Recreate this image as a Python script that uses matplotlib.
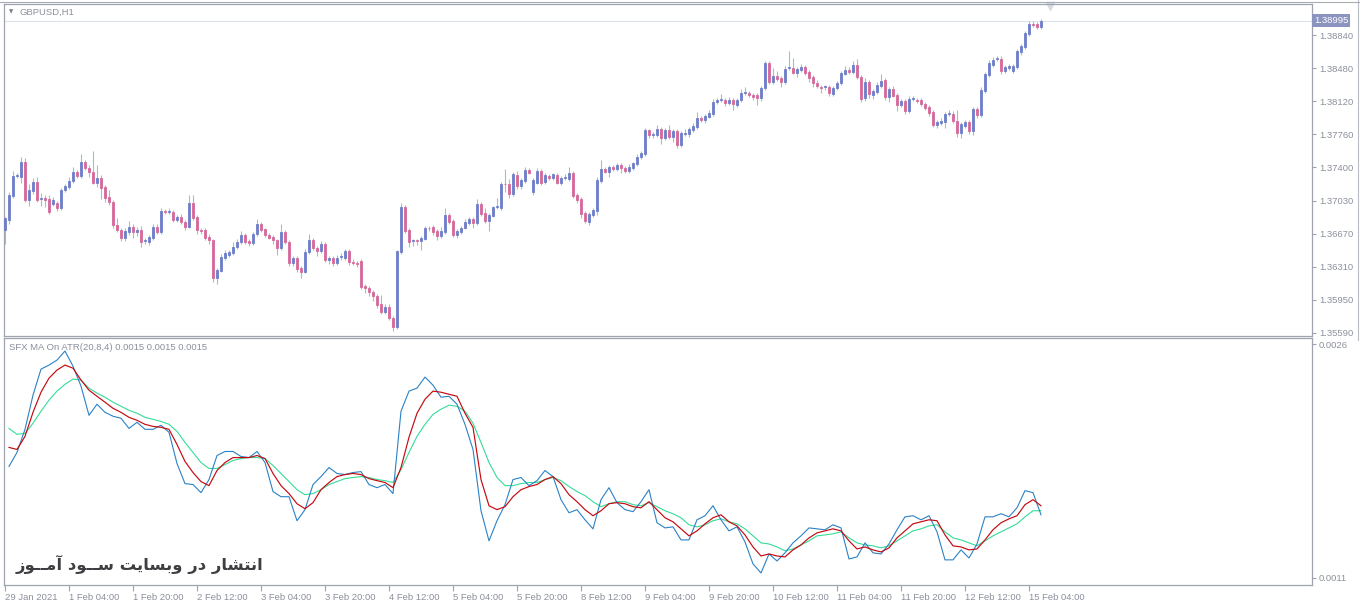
import matplotlib
matplotlib.use("Agg")
import matplotlib.pyplot as plt
import numpy as np

plt.rcParams["font.family"] = ["Liberation Sans", "DejaVu Sans"]

# GBPUSD H1 candles, one per hour starting 29 Jan 2021 12:00
opens = [
    1.3671, 1.3682, 1.3708, 1.3730, 1.3729, 1.3746, 1.3704, 1.3714, 1.3724, 1.3705,
    1.3706, 1.3705, 1.3700, 1.3701, 1.3695, 1.3715, 1.3718, 1.3725, 1.3735, 1.3730,
    1.3746, 1.3739, 1.3735, 1.3723, 1.3728, 1.3718, 1.3707, 1.3702, 1.3677, 1.3671,
    1.3663, 1.3669, 1.3675, 1.3669, 1.3671, 1.3659, 1.3658, 1.3663, 1.3675, 1.3669,
    1.3692, 1.3691, 1.3691, 1.3682, 1.3686, 1.3680, 1.3675, 1.3701, 1.3686, 1.3671,
    1.3671, 1.3664, 1.3660, 1.3619, 1.3627, 1.3641, 1.3644, 1.3646, 1.3653, 1.3658,
    1.3666, 1.3659, 1.3657, 1.3667, 1.3678, 1.3672, 1.3666, 1.3664, 1.3660, 1.3652,
    1.3669, 1.3658, 1.3635, 1.3641, 1.3630, 1.3626, 1.3647, 1.3660, 1.3652, 1.3648,
    1.3656, 1.3639, 1.3641, 1.3635, 1.3642, 1.3641, 1.3648, 1.3636, 1.3635, 1.3638,
    1.3610, 1.3608, 1.3604, 1.3599, 1.3591, 1.3582, 1.3587, 1.3575, 1.3566, 1.3647,
    1.3696, 1.3671, 1.3659, 1.3660, 1.3659, 1.3662, 1.3674, 1.3675, 1.3670, 1.3665,
    1.3669, 1.3688, 1.3681, 1.3666, 1.3669, 1.3674, 1.3679, 1.3683, 1.3679, 1.3700,
    1.3690, 1.3681, 1.3687, 1.3696, 1.3695, 1.3722, 1.3722, 1.3711, 1.3731, 1.3719,
    1.3725, 1.3737, 1.3713, 1.3723, 1.3736, 1.3724, 1.3730, 1.3728, 1.3731, 1.3723,
    1.3728, 1.3727, 1.3734, 1.3710, 1.3705, 1.3690, 1.3680, 1.3688, 1.3692, 1.3725,
    1.3738, 1.3735, 1.3740, 1.3738, 1.3742, 1.3739, 1.3736, 1.3739, 1.3743, 1.3751,
    1.3754, 1.3780, 1.3775, 1.3775, 1.3782, 1.3772, 1.3780, 1.3773, 1.3779, 1.3764,
    1.3776, 1.3776, 1.3780, 1.3784, 1.3794, 1.3791, 1.3795, 1.3798, 1.3811, 1.3813,
    1.3813, 1.3810, 1.3813, 1.3808, 1.3813, 1.3821, 1.3821, 1.3819, 1.3819, 1.3815,
    1.3826, 1.3854, 1.3833, 1.3839, 1.3837, 1.3833, 1.3848, 1.3848, 1.3843, 1.3846,
    1.3849, 1.3844, 1.3838, 1.3832, 1.3827, 1.3827, 1.3827, 1.3820, 1.3826, 1.3832,
    1.3842, 1.3846, 1.3844, 1.3851, 1.3838, 1.3815, 1.3833, 1.3819, 1.3822, 1.3828,
    1.3835, 1.3816, 1.3825, 1.3819, 1.3808, 1.3812, 1.3801, 1.3814, 1.3813, 1.3813,
    1.3809, 1.3806, 1.3800, 1.3786, 1.3788, 1.3789, 1.3798, 1.3798, 1.3790, 1.3777,
    1.3785, 1.3789, 1.3779, 1.3803, 1.3797, 1.3823, 1.3840, 1.3851, 1.3858, 1.3858,
    1.3845, 1.3848, 1.3845, 1.3849, 1.3866, 1.3871, 1.3885, 1.3896, 1.3896, 1.3893,
]
closes = [
    1.3684, 1.3710, 1.3730, 1.3731, 1.3746, 1.3704, 1.3715, 1.3724, 1.3704, 1.3706,
    1.3704, 1.3691, 1.3704, 1.3695, 1.3715, 1.3719, 1.3725, 1.3735, 1.3730, 1.3746,
    1.3739, 1.3735, 1.3723, 1.3728, 1.3717, 1.3706, 1.3702, 1.3677, 1.3671, 1.3663,
    1.3670, 1.3675, 1.3669, 1.3671, 1.3658, 1.3660, 1.3664, 1.3675, 1.3669, 1.3692,
    1.3691, 1.3692, 1.3682, 1.3686, 1.3680, 1.3675, 1.3701, 1.3684, 1.3671, 1.3670,
    1.3663, 1.3660, 1.3619, 1.3628, 1.3642, 1.3646, 1.3647, 1.3653, 1.3658, 1.3666,
    1.3658, 1.3657, 1.3667, 1.3678, 1.3671, 1.3666, 1.3663, 1.3660, 1.3652, 1.3669,
    1.3658, 1.3635, 1.3641, 1.3629, 1.3626, 1.3647, 1.3660, 1.3652, 1.3648, 1.3656,
    1.3639, 1.3641, 1.3635, 1.3641, 1.3643, 1.3648, 1.3636, 1.3635, 1.3634, 1.3609,
    1.3608, 1.3604, 1.3599, 1.3590, 1.3582, 1.3587, 1.3575, 1.3566, 1.3648, 1.3696,
    1.3670, 1.3658, 1.3660, 1.3659, 1.3663, 1.3674, 1.3673, 1.3669, 1.3665, 1.3670,
    1.3688, 1.3680, 1.3666, 1.3670, 1.3674, 1.3680, 1.3683, 1.3679, 1.3700, 1.3689,
    1.3681, 1.3688, 1.3696, 1.3697, 1.3722, 1.3721, 1.3711, 1.3732, 1.3719, 1.3726,
    1.3737, 1.3734, 1.3726, 1.3736, 1.3723, 1.3731, 1.3728, 1.3732, 1.3723, 1.3728,
    1.3729, 1.3734, 1.3708, 1.3704, 1.3689, 1.3681, 1.3689, 1.3693, 1.3726, 1.3738,
    1.3735, 1.3740, 1.3738, 1.3742, 1.3739, 1.3736, 1.3740, 1.3744, 1.3751, 1.3755,
    1.3780, 1.3775, 1.3776, 1.3782, 1.3772, 1.3780, 1.3773, 1.3779, 1.3764, 1.3777,
    1.3777, 1.3782, 1.3785, 1.3794, 1.3791, 1.3796, 1.3799, 1.3811, 1.3813, 1.3814,
    1.3810, 1.3813, 1.3809, 1.3813, 1.3821, 1.3822, 1.3819, 1.3816, 1.3815, 1.3826,
    1.3854, 1.3833, 1.3839, 1.3836, 1.3833, 1.3847, 1.3849, 1.3843, 1.3847, 1.3849,
    1.3843, 1.3837, 1.3832, 1.3828, 1.3826, 1.3828, 1.3821, 1.3826, 1.3832, 1.3843,
    1.3846, 1.3844, 1.3851, 1.3838, 1.3814, 1.3833, 1.3820, 1.3823, 1.3830, 1.3834,
    1.3816, 1.3825, 1.3818, 1.3808, 1.3812, 1.3801, 1.3814, 1.3815, 1.3812, 1.3809,
    1.3804, 1.3799, 1.3786, 1.3789, 1.3790, 1.3798, 1.3799, 1.3790, 1.3777, 1.3787,
    1.3789, 1.3779, 1.3803, 1.3797, 1.3824, 1.3842, 1.3854, 1.3857, 1.3859, 1.3845,
    1.3849, 1.3850, 1.3850, 1.3867, 1.3872, 1.3886, 1.3896, 1.3895, 1.3893, 1.38995,
]
# shadow lengths in pips above / below the candle body
wick_up = [
    2, 3, 6, 3, 5, 4, 6, 4, 5, 6,  3, 5, 3, 2, 2, 3, 4, 5, 2, 8,
    2, 3, 22, 14, 3, 2, 8, 2, 7, 2,  3, 6, 3, 4, 5, 3, 2, 3, 3, 3,
    2, 3, 2, 2, 3, 2, 9, 8, 2, 3,  2, 3, 2, 2, 3, 4, 2, 5, 3, 4,
    2, 2, 2, 5, 2, 2, 2, 2, 2, 9,  2, 2, 2, 2, 2, 4, 7, 3, 2, 3,
    2, 2, 2, 3, 3, 3, 3, 4, 2, 2,  2, 2, 2, 2, 9, 4, 4, 2, 2, 5,
    3, 2, 2, 2, 2, 2, 2, 2, 2, 5,  7, 2, 2, 2, 2, 3, 3, 2, 5, 2,
    5, 2, 2, 9, 2, 16, 5, 3, 5, 2,  3, 2, 2, 3, 2, 2, 2, 2, 2, 2,
    3, 6, 2, 2, 2, 2, 2, 2, 3, 10,  2, 2, 2, 2, 2, 2, 3, 2, 3, 2,
    3, 2, 2, 4, 2, 3, 6, 2, 2, 2,  4, 2, 3, 6, 2, 2, 3, 3, 2, 6,
    2, 3, 2, 2, 4, 5, 2, 2, 2, 2,  2, 2, 9, 6, 2, 3, 18, 11, 2, 3,
    2, 2, 2, 3, 3, 2, 2, 2, 2, 2,  4, 3, 5, 7, 2, 4, 2, 2, 3, 8,
    2, 2, 3, 2, 2, 2, 3, 3, 2, 2,  2, 2, 2, 2, 3, 2, 3, 3, 12, 2,
    2, 2, 3, 2, 3, 2, 3, 3, 2, 3,  2, 2, 2, 2, 2, 2, 3, 3, 2, 2,
]
wick_dn = [
    15, 4, 2, 2, 6, 2, 6, 3, 2, 8,  8, 2, 2, 3, 2, 2, 2, 2, 2, 2,
    2, 6, 2, 5, 12, 4, 3, 3, 2, 4,  4, 3, 6, 4, 5, 3, 3, 3, 2, 2,
    2, 2, 2, 2, 2, 4, 2, 2, 4, 3,  3, 4, 4, 7, 2, 2, 2, 2, 2, 2,
    2, 3, 2, 2, 2, 2, 2, 4, 8, 2,  2, 3, 3, 3, 7, 2, 2, 3, 5, 2,
    3, 5, 3, 2, 3, 2, 3, 2, 3, 2,  5, 5, 5, 4, 2, 2, 2, 5, 3, 2,
    2, 5, 5, 4, 9, 2, 3, 3, 5, 2,  2, 2, 2, 3, 2, 2, 2, 6, 2, 2,
    2, 11, 2, 2, 2, 8, 5, 3, 3, 3,  2, 2, 3, 2, 3, 3, 2, 2, 2, 3,
    2, 2, 2, 3, 5, 2, 3, 3, 4, 2,  2, 6, 2, 2, 6, 2, 2, 2, 2, 2,
    2, 3, 3, 2, 7, 2, 2, 6, 3, 2,  2, 3, 2, 2, 2, 3, 2, 2, 2, 2,
    3, 2, 7, 2, 2, 2, 3, 3, 7, 3,  2, 2, 2, 2, 6, 2, 2, 2, 5, 2,
    3, 4, 5, 2, 5, 3, 3, 2, 2, 2,  2, 2, 2, 2, 3, 3, 5, 5, 2, 2,
    3, 5, 2, 7, 3, 3, 2, 2, 2, 2,  2, 3, 2, 3, 2, 6, 2, 2, 4, 5,
    2, 3, 4, 3, 2, 2, 2, 2, 2, 3,  2, 2, 2, 2, 4, 2, 2, 2, 2, 2,
]

price_ticks = [1.38840, 1.38480, 1.38120, 1.37760, 1.37400, 1.37030, 1.36670, 1.36310, 1.35950, 1.35590]
last_price = 1.38995

time_labels = ["29 Jan 2021", "1 Feb 04:00", "1 Feb 20:00", "2 Feb 12:00", "3 Feb 04:00",
               "3 Feb 20:00", "4 Feb 12:00", "5 Feb 04:00", "5 Feb 20:00", "8 Feb 12:00",
               "9 Feb 04:00", "9 Feb 20:00", "10 Feb 12:00", "11 Feb 04:00", "11 Feb 20:00",
               "12 Feb 12:00", "15 Feb 04:00"]

# SFX MA On ATR(20,8,4), read every second bar (bars 2, 4, ... 260)
atr_fast = [
    0.001815, 0.001905, 0.002053, 0.002272, 0.002439, 0.002465, 0.002497, 0.002555, 0.002458, 0.002330,
    0.002143, 0.002214, 0.002162, 0.002137, 0.002124, 0.002059, 0.002098, 0.002053, 0.002053, 0.002079,
    0.002034, 0.001834, 0.001705, 0.001699, 0.001647, 0.001731, 0.001885, 0.001911, 0.001911, 0.001879,
    0.001872, 0.001911, 0.001840, 0.001654, 0.001621, 0.001621, 0.001467, 0.001538, 0.001699, 0.001750,
    0.001808, 0.001770, 0.001763, 0.001776, 0.001782, 0.001699, 0.001679, 0.001699, 0.001641, 0.002169,
    0.002298, 0.002317, 0.002388, 0.002336, 0.002259, 0.002265, 0.002214, 0.002085, 0.001924, 0.001531,
    0.001338, 0.001467, 0.001570, 0.001731, 0.001744, 0.001692, 0.001724, 0.001789, 0.001750, 0.001602,
    0.001518, 0.001538, 0.001473, 0.001415, 0.001602, 0.001679, 0.001583, 0.001538, 0.001525, 0.001589,
    0.001666, 0.001454, 0.001421, 0.001428, 0.001344, 0.001344, 0.001473, 0.001499, 0.001563, 0.001473,
    0.001402, 0.001428, 0.001331, 0.001190, 0.001132, 0.001254, 0.001209, 0.001261, 0.001325, 0.001370,
    0.001421, 0.001415, 0.001409, 0.001441, 0.001421, 0.001222, 0.001235, 0.001325, 0.001261, 0.001254,
    0.001318, 0.001409, 0.001492, 0.001499, 0.001473, 0.001499, 0.001396, 0.001216, 0.001216, 0.001280,
    0.001228, 0.001318, 0.001492, 0.001492, 0.001512, 0.001492, 0.001550, 0.001660, 0.001647, 0.001505,
]
atr_mid = [
    0.001937, 0.001924, 0.002008, 0.002162, 0.002291, 0.002381, 0.002433, 0.002465, 0.002445, 0.002369,
    0.002304, 0.002265, 0.002227, 0.002188, 0.002162, 0.002130, 0.002111, 0.002085, 0.002072, 0.002066,
    0.002053, 0.001956, 0.001847, 0.001776, 0.001718, 0.001692, 0.001789, 0.001840, 0.001872, 0.001872,
    0.001872, 0.001885, 0.001866, 0.001770, 0.001692, 0.001641, 0.001576, 0.001544, 0.001583, 0.001666,
    0.001712, 0.001750, 0.001763, 0.001770, 0.001763, 0.001737, 0.001724, 0.001712, 0.001679, 0.001808,
    0.002002, 0.002156, 0.002246, 0.002298, 0.002291, 0.002278, 0.002265, 0.002156, 0.002066, 0.001731,
    0.001563, 0.001538, 0.001557, 0.001621, 0.001666, 0.001686, 0.001699, 0.001731, 0.001750, 0.001705,
    0.001634, 0.001589, 0.001538, 0.001499, 0.001531, 0.001576, 0.001583, 0.001576, 0.001557, 0.001550,
    0.001589, 0.001538, 0.001486, 0.001460, 0.001415, 0.001370, 0.001402, 0.001447, 0.001486, 0.001505,
    0.001460, 0.001434, 0.001376, 0.001299, 0.001241, 0.001254, 0.001241, 0.001235, 0.001280, 0.001312,
    0.001357, 0.001389, 0.001402, 0.001415, 0.001402, 0.001338, 0.001286, 0.001299, 0.001280, 0.001267,
    0.001293, 0.001357, 0.001402, 0.001447, 0.001460, 0.001473, 0.001467, 0.001376, 0.001306, 0.001299,
    0.001280, 0.001286, 0.001344, 0.001409, 0.001454, 0.001479, 0.001499, 0.001570, 0.001602, 0.001563,
]
atr_slow = [
    0.002059, 0.002021, 0.002027, 0.002092, 0.002169, 0.002240, 0.002298, 0.002342, 0.002375, 0.002369,
    0.002317, 0.002285, 0.002259, 0.002227, 0.002201, 0.002175, 0.002156, 0.002130, 0.002117, 0.002104,
    0.002085, 0.002040, 0.001969, 0.001905, 0.001840, 0.001802, 0.001802, 0.001827, 0.001853, 0.001866,
    0.001872, 0.001872, 0.001866, 0.001821, 0.001770, 0.001718, 0.001666, 0.001634, 0.001641, 0.001666,
    0.001699, 0.001718, 0.001737, 0.001744, 0.001750, 0.001744, 0.001731, 0.001724, 0.001712, 0.001795,
    0.001905, 0.002008, 0.002085, 0.002149, 0.002182, 0.002208, 0.002201, 0.002169, 0.002092, 0.001969,
    0.001840, 0.001744, 0.001692, 0.001692, 0.001705, 0.001712, 0.001712, 0.001731, 0.001744, 0.001724,
    0.001686, 0.001654, 0.001628, 0.001589, 0.001557, 0.001576, 0.001589, 0.001589, 0.001570, 0.001563,
    0.001583, 0.001557, 0.001531, 0.001512, 0.001486, 0.001441, 0.001428, 0.001441, 0.001467, 0.001479,
    0.001460, 0.001447, 0.001415, 0.001370, 0.001325, 0.001318, 0.001299, 0.001274, 0.001286, 0.001312,
    0.001338, 0.001370, 0.001376, 0.001383, 0.001396, 0.001357, 0.001325, 0.001312, 0.001306, 0.001293,
    0.001306, 0.001338, 0.001370, 0.001402, 0.001415, 0.001434, 0.001441, 0.001396, 0.001357, 0.001344,
    0.001325, 0.001306, 0.001338, 0.001370, 0.001396, 0.001421, 0.001447, 0.001492, 0.001531, 0.001531,
]
atr_ticks = [0.0026, 0.0011]

# watermark, already in visual (left-to-right) order with joined letter forms
watermark = ("\ufeaf\ufeee\u0640\u0640\ufee3\ufe81 \ufea9\ufeee\u0640\u0640\ufeb3 "
             "\ufe96\ufef3\ufe8e\ufeb4\ufe91\ufeed \ufead\ufea9 \ufead\ufe8e\ufeb8\ufe98\ufee7\ufe8d")

UP = "#6e7fc9"
DOWN = "#d6699b"
WICK = "#b4b7c3"
GRID = "#9ea3ad"
TXT = "#8c909b"

n = np.arange(1, len(closes) + 1)
o = np.array(opens)
c = np.array(closes)
top = np.maximum(o, c)
bot = np.minimum(o, c)
hi = top + np.array(wick_up) * 1e-4
lo = bot - np.array(wick_dn) * 1e-4
cols = np.where(c >= o, UP, DOWN)

W, H = 1360, 602
fig = plt.figure(figsize=(W / 100, H / 100), dpi=100)
ax = fig.add_axes([4 / W, 1 - 336 / H, 1308 / W, 332 / H])
ax2 = fig.add_axes([4 / W, 1 - 585 / H, 1308 / W, 247 / H])

xlim = (0.75, 0.75 + 1308 / 4)

# price pane
ax.axhline(last_price, color="#dde3ec", lw=0.8, zorder=1)
ax.vlines(n, lo, hi, color=WICK, lw=0.8, zorder=2)
ax.bar(n, top - bot, bottom=bot, width=0.6, color=cols, edgecolor=cols, linewidth=0.6, zorder=3)
ax.set_xlim(*xlim)
ax.set_ylim(1.35557, 1.39179)
ax.yaxis.tick_right()
ax.set_yticks(price_ticks)
ax.set_yticklabels([f"{p:.5f}" for p in price_ticks])
ax.tick_params(axis="y", direction="out", length=3, width=0.8, pad=2, labelsize=6.8,
               colors=GRID, labelcolor=TXT)
ax.tick_params(axis="x", bottom=False, labelbottom=False)
ax.text(1.0015, last_price, "1.38995", transform=ax.get_yaxis_transform(), ha="left", va="center",
        fontsize=6.8, color="white", clip_on=False,
        bbox=dict(boxstyle="square,pad=0.2", fc="#8b94bf", ec="none"))
ax.text(0.0122, 0.976, "GBPUSD,H1", transform=ax.transAxes, ha="left", va="center",
        fontsize=6.8, color=TXT)
ax.text(0.0035, 0.976, "\u25bc", transform=ax.transAxes, ha="left", va="center",
        fontsize=4, color="#7d808a", family=["DejaVu Sans"])
ax.plot([0.7997], [0.995], marker="v", ms=6, color="#d6dbe6", transform=ax.transAxes, clip_on=False)

# indicator pane
nb = np.arange(2, len(closes) + 1, 2)
ax2.plot(nb, atr_slow, color="#35dc98", lw=0.8)
ax2.plot(nb, atr_fast, color="#2a82c6", lw=0.8)
ax2.plot(nb, atr_mid, color="#c40a10", lw=0.85)
ax2.set_xlim(*xlim)
ax2.set_ylim(0.0010549, 0.0026386)
ax2.yaxis.tick_right()
ax2.set_yticks(atr_ticks)
ax2.set_yticklabels([f"{v:.4f}" for v in atr_ticks])
ax2.tick_params(axis="y", direction="out", length=3, width=0.8, pad=2, labelsize=6.8,
                colors=GRID, labelcolor=TXT)
ax2.set_xticks(n[::16][:len(time_labels)])
ax2.set_xticklabels(time_labels)
for lab in ax2.get_xticklabels():
    lab.set_ha("left")
ax2.tick_params(axis="x", direction="out", length=4, width=0.8, pad=1.5, labelsize=6.8,
                colors=GRID, labelcolor=TXT)
ax2.text(0.0038, 0.963, "SFX MA On ATR(20,8,4) 0.0015 0.0015 0.0015", transform=ax2.transAxes,
         ha="left", va="center", fontsize=6.8, color=TXT)
ax2.text(0.009, 0.085, watermark, transform=ax2.transAxes, ha="left", va="center",
         fontsize=11.8, fontweight="bold", color="#3e3e42", family=["DejaVu Sans"])

for a in (ax, ax2):
    for s in a.spines.values():
        s.set_color(GRID)
        s.set_linewidth(0.9)

fig.add_artist(plt.Line2D([1358 / W, 1358 / W], [1 - 340 / H, 1.0], color="#b8bcc4", lw=0.8))
fig.add_artist(plt.Line2D([0, 1], [1 - 1.5 / H, 1 - 1.5 / H], color="#a8acb4", lw=0.8))

fig.savefig("out.png", dpi=100, facecolor="white")
